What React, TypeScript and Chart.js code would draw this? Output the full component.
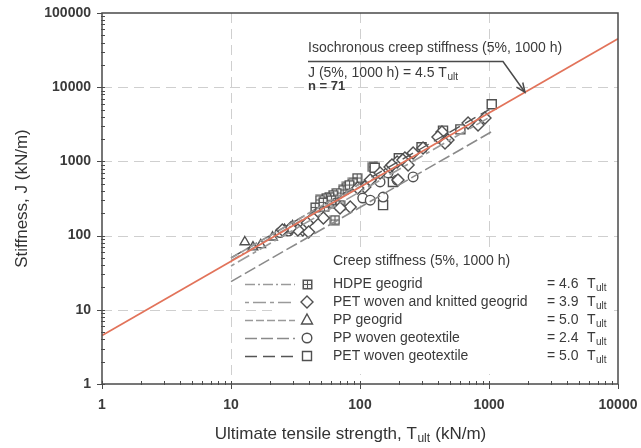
import React, { useEffect, useRef } from "react";
import { Chart, registerables } from "chart.js";

Chart.register(...registerables);

const FONT = "'Liberation Sans', Arial, Helvetica, sans-serif";

const X_MIN = 1;
const X_MAX = 10000;
const Y_MIN = 1;
const Y_MAX = 100000;
const X_TICKS = [1, 10, 100, 1000, 10000];
const Y_TICKS = [1, 10, 100, 1000, 10000, 100000];

// HDPE geogrid
const HDPE_T = [126, 95, 88, 79, 74, 66, 62, 58, 55, 49, 62, 64, 70, 53, 45, 52, 83, 60];
const HDPE_J = [841, 597, 512, 452, 412, 375, 352, 331, 321, 302, 275, 162, 258, 243, 240, 280, 480, 300];
// PET woven and knitted geogrid
const PETK_T = [308, 258, 223, 194, 171, 143, 120, 109, 96, 84, 70, 52, 43, 39, 36, 33, 40, 29, 25, 432, 481, 456, 402, 215, 177, 236, 197, 822, 931, 688];
const PETK_J = [1517, 1298, 1111, 982, 841, 698, 561, 452, 438, 243, 235, 173, 173, 148, 119, 119, 112, 127, 119, 2490, 1942, 1771, 2133, 1045, 895, 895, 561, 3093, 3846, 3296];
// PP geogrid
const PPG_T = [12.8, 14.8, 17, 21, 26, 30];
const PPG_J = [82, 70, 75, 95, 120, 135];
// PP woven geotextile
const PPW_T = [105, 151, 194, 258, 143, 165, 28, 24, 120];
const PPW_J = [321, 331, 561, 617, 528, 700, 115, 110, 300];
// PET woven geotextile
const PETW_T = [1050, 300, 200, 440, 151, 180, 130, 600];
const PETW_J = [5900, 1550, 1100, 2600, 258, 528, 820, 2700];

// Regression lines (end points)
const FIT_HDPE_T = [10, 150];
const FIT_HDPE_J = [46, 690];
const FIT_PETK_T = [10, 1000];
const FIT_PETK_J = [39, 3900];
const FIT_PPG_T = [10, 100];
const FIT_PPG_J = [50, 500];
const FIT_PPW_T = [10, 1100];
const FIT_PPW_J = [24, 2640];
const FIT_PETW_T = [10, 1000];
const FIT_PETW_J = [50, 5000];
// Isochronous creep stiffness line
const ISO_T = [1, 10000];
const ISO_J = [4.5, 45000];
const ARROW_T = 1900;
const ARROW_J = 8550;

const LEGEND_TITLE = "Creep stiffness (5%, 1000 h)";
const LEGEND_LABELS = [
  "HDPE geogrid",
  "PET woven and knitted geogrid",
  "PP geogrid",
  "PP woven geotextile",
  "PET woven geotextile",
];
const LEGEND_COEF = ["= 4.6", "= 3.9", "= 5.0", "= 2.4", "= 5.0"];

const MARK = "#505050";
const LINE_STYLES = [
  { color: "#9a9a9a", dash: [10, 3, 2, 3], width: 1.6 },
  { color: "#9a9a9a", dash: [4, 4, 13, 4], width: 1.6 },
  { color: "#9a9a9a", dash: [8, 3], width: 1.6 },
  { color: "#8a8a8a", dash: [12, 4], width: 1.6 },
  { color: "#555555", dash: [12, 6], width: 1.4 },
];
const MARKERS = ["gridsq", "diamond", "triangle", "circle", "square"];

function pts(xs: number[], ys: number[]) {
  return xs.map((v, i) => ({ x: v, y: ys[i] }));
}

function makeGridSquare(): HTMLCanvasElement {
  const c = document.createElement("canvas");
  c.width = 11;
  c.height = 11;
  const g = c.getContext("2d")!;
  g.fillStyle = "#555555";
  g.fillRect(0.5, 0.5, 10, 10);
  g.fillStyle = "#f4f4f4";
  g.fillRect(2, 2, 3, 3);
  g.fillRect(6, 2, 3, 3);
  g.fillRect(2, 6, 3, 3);
  g.fillRect(6, 6, 3, 3);
  return c;
}

function drawMarker(ctx: CanvasRenderingContext2D, kind: string, x: number, y: number, img: HTMLCanvasElement) {
  ctx.save();
  ctx.setLineDash([]);
  ctx.strokeStyle = MARK;
  ctx.fillStyle = "#fff";
  ctx.lineWidth = 1.4;
  ctx.beginPath();
  if (kind === "gridsq") {
    ctx.drawImage(img, Math.round(x - 5.5), Math.round(y - 5.5));
    ctx.restore();
    return;
  } else if (kind === "diamond") {
    ctx.moveTo(x, y - 6);
    ctx.lineTo(x + 6, y);
    ctx.lineTo(x, y + 6);
    ctx.lineTo(x - 6, y);
    ctx.closePath();
  } else if (kind === "triangle") {
    ctx.moveTo(x, y - 6);
    ctx.lineTo(x + 5.5, y + 4);
    ctx.lineTo(x - 5.5, y + 4);
    ctx.closePath();
  } else if (kind === "circle") {
    ctx.arc(x, y, 4.8, 0, Math.PI * 2);
  } else {
    ctx.rect(x - 4.5, y - 4.5, 9, 9);
  }
  ctx.fill();
  ctx.stroke();
  ctx.restore();
}

function textWithSub(ctx: CanvasRenderingContext2D, main: string, sub: string, rest: string, x: number, y: number, size: number, align: "left" | "center") {
  ctx.font = `${size}px ${FONT}`;
  const w1 = ctx.measureText(main).width;
  ctx.font = `${Math.round(size * 0.72)}px ${FONT}`;
  const w2 = ctx.measureText(sub).width;
  ctx.font = `${size}px ${FONT}`;
  const w3 = ctx.measureText(rest).width;
  const sx = align === "center" ? x - (w1 + w2 + w3) / 2 : x;
  ctx.textAlign = "left";
  ctx.textBaseline = "middle";
  ctx.fillText(main, sx, y);
  ctx.font = `${Math.round(size * 0.72)}px ${FONT}`;
  ctx.fillText(sub, sx + w1 + 0.5, y + size * 0.3);
  ctx.font = `${size}px ${FONT}`;
  ctx.fillText(rest, sx + w1 + w2 + 1, y);
}

export default function App() {
  const ref = useRef<HTMLCanvasElement | null>(null);

  useEffect(() => {
    document.body.style.margin = "0";
    const canvas = ref.current!;
    const gridImg = makeGridSquare();

    const decorPlugin = {
      id: "decor",
      beforeDraw(chart: any) {
        const { ctx, width, height } = chart;
        ctx.save();
        ctx.fillStyle = "#ffffff";
        ctx.fillRect(0, 0, width, height);
        ctx.restore();
      },
      beforeDatasetsDraw(chart: any) {
        const { ctx, chartArea: a, scales } = chart;
        const xs = scales.x;
        const ys = scales.y;
        ctx.save();
        ctx.strokeStyle = "#cfcfcf";
        ctx.lineWidth = 1;
        ctx.setLineDash([10, 6]);
        for (const v of X_TICKS) {
          if (v <= X_MIN || v >= X_MAX) continue;
          const px = Math.round(xs.getPixelForValue(v)) + 0.5;
          ctx.beginPath();
          ctx.moveTo(px, a.top);
          ctx.lineTo(px, a.bottom);
          ctx.stroke();
        }
        for (const v of Y_TICKS) {
          if (v <= Y_MIN || v >= Y_MAX) continue;
          const py = Math.round(ys.getPixelForValue(v)) + 0.5;
          ctx.beginPath();
          ctx.moveTo(a.left, py);
          ctx.lineTo(a.right, py);
          ctx.stroke();
        }
        // legend background
        ctx.setLineDash([]);
        ctx.fillStyle = "#ffffff";
        ctx.fillRect(a.left + 170, a.top + 236, a.right - a.left - 176, a.bottom - a.top - 246);
        ctx.restore();
      },
      afterDatasetsDraw(chart: any) {
        const { ctx, chartArea: a, scales } = chart;
        const xs = scales.x;
        const ys = scales.y;
        ctx.save();
        ctx.setLineDash([]);
        // frame
        ctx.strokeStyle = "#4a4a4a";
        ctx.lineWidth = 1.5;
        ctx.strokeRect(a.left, a.top, a.right - a.left, a.bottom - a.top);
        // ticks
        ctx.lineWidth = 1;
        ctx.strokeStyle = "#4a4a4a";
        for (let d = 0; d < 4; d++) {
          for (let m = 1; m <= 9; m++) {
            const v = Math.pow(10, d) * m;
            const px = Math.round(xs.getPixelForValue(v)) + 0.5;
            ctx.beginPath();
            if (m === 1) {
              ctx.moveTo(px, a.bottom + 5);
              ctx.lineTo(px, a.bottom - 3);
            } else {
              ctx.moveTo(px, a.bottom + 1);
              ctx.lineTo(px, a.bottom - 3);
            }
            ctx.stroke();
          }
        }
        {
          const px = Math.round(xs.getPixelForValue(X_MAX)) + 0.5;
          ctx.beginPath();
          ctx.moveTo(px, a.bottom + 5);
          ctx.lineTo(px, a.bottom);
          ctx.stroke();
        }
        for (let d = 0; d < 5; d++) {
          for (let m = 1; m <= 9; m++) {
            const v = Math.pow(10, d) * m;
            const py = Math.round(ys.getPixelForValue(v)) + 0.5;
            ctx.beginPath();
            if (m === 1) {
              ctx.moveTo(a.left - 5, py);
              ctx.lineTo(a.left + 3, py);
            } else {
              ctx.moveTo(a.left - 1, py);
              ctx.lineTo(a.left + 3, py);
            }
            ctx.stroke();
          }
        }
        {
          const py = Math.round(ys.getPixelForValue(Y_MAX)) + 0.5;
          ctx.beginPath();
          ctx.moveTo(a.left - 5, py);
          ctx.lineTo(a.left, py);
          ctx.stroke();
        }

        // legend
        const lx = a.left + 231;
        const sx0 = a.left + 143;
        const sx1 = a.left + 193;
        const mx = a.left + 205;
        ctx.fillStyle = "#3a3a3a";
        ctx.font = `14px ${FONT}`;
        ctx.textAlign = "left";
        ctx.textBaseline = "middle";
        ctx.fillText(LEGEND_TITLE, lx, a.top + 248);
        const rowY = [271, 289, 307, 325, 343];
        LEGEND_LABELS.forEach((lab, i) => {
          const yy = a.top + rowY[i];
          const st = LINE_STYLES[i];
          ctx.save();
          ctx.strokeStyle = st.color;
          ctx.lineWidth = st.width;
          ctx.setLineDash(st.dash);
          ctx.beginPath();
          ctx.moveTo(sx0, yy + 0.5);
          ctx.lineTo(sx1, yy + 0.5);
          ctx.stroke();
          ctx.restore();
          drawMarker(ctx, MARKERS[i], mx, yy, gridImg);
          ctx.fillStyle = "#3a3a3a";
          ctx.font = `14px ${FONT}`;
          ctx.textAlign = "left";
          ctx.textBaseline = "middle";
          ctx.fillText(lab, lx, yy);
          ctx.fillText(LEGEND_COEF[i], a.left + 445, yy);
          textWithSub(ctx, "T", "ult", "", a.left + 485, yy, 14, "left");
        });

        // annotation
        const tx = a.left + 206;
        ctx.fillStyle = "#3a3a3a";
        ctx.font = `14px ${FONT}`;
        ctx.textAlign = "left";
        ctx.textBaseline = "middle";
        ctx.fillText("Isochronous creep stiffness (5%, 1000 h)", tx, a.top + 35);
        textWithSub(ctx, "J (5%, 1000 h) = 4.5 T", "ult", "", tx, a.top + 60, 14, "left");
        ctx.font = `bold 13px ${FONT}`;
        ctx.fillText("n = 71", tx, a.top + 73);
        const tipX = xs.getPixelForValue(ARROW_T);
        const tipY = ys.getPixelForValue(ARROW_J);
        const kx = a.left + 401;
        const ky = a.top + 48.5;
        ctx.strokeStyle = "#4a4a4a";
        ctx.lineWidth = 1.5;
        ctx.beginPath();
        ctx.moveTo(tx, ky);
        ctx.lineTo(kx, ky);
        ctx.lineTo(tipX, tipY);
        ctx.stroke();
        const ang = Math.atan2(tipY - ky, tipX - kx);
        const hl = 10;
        ctx.beginPath();
        ctx.moveTo(tipX - hl * Math.cos(ang - 0.4), tipY - hl * Math.sin(ang - 0.4));
        ctx.lineTo(tipX, tipY);
        ctx.lineTo(tipX - hl * Math.cos(ang + 0.4), tipY - hl * Math.sin(ang + 0.4));
        ctx.stroke();

        // axis titles
        ctx.fillStyle = "#333333";
        textWithSub(ctx, "Ultimate tensile strength, T", "ult", " (kN/m)", (a.left + a.right) / 2 - 10, a.bottom + 50, 17, "center");
        ctx.save();
        ctx.translate(22, (a.top + a.bottom) / 2);
        ctx.rotate(-Math.PI / 2);
        ctx.font = `17px ${FONT}`;
        ctx.textAlign = "center";
        ctx.textBaseline = "middle";
        ctx.fillText("Stiffness, J (kN/m)", 0, 0);
        ctx.restore();
        ctx.restore();
      },
    };

    const scatterDs = (xs: number[], ys: number[], style: any) => ({
      type: "scatter" as const,
      data: pts(xs, ys),
      showLine: false,
      borderColor: MARK,
      backgroundColor: "#ffffff",
      pointBorderWidth: 1.4,
      order: 3,
      ...style,
    });
    const lineDs = (xs: number[], ys: number[], i: number) => ({
      type: "scatter" as const,
      data: pts(xs, ys),
      showLine: true,
      borderColor: LINE_STYLES[i].color,
      borderWidth: LINE_STYLES[i].width,
      borderDash: LINE_STYLES[i].dash,
      pointRadius: 0,
      fill: false,
      order: 2,
    });

    const tickFont = { family: FONT, size: 14, weight: "bold" as const };

    const chart = new Chart(canvas, {
      type: "scatter",
      data: {
        datasets: [
          scatterDs(PETK_T, PETK_J, { pointStyle: "rectRot", pointRadius: 6 }),
          scatterDs(PPG_T, PPG_J, { pointStyle: "triangle", pointRadius: 5.5 }),
          scatterDs(PPW_T, PPW_J, { pointStyle: "circle", pointRadius: 4.8 }),
          scatterDs(PETW_T, PETW_J, { pointStyle: "rect", pointRadius: 6.4 }),
          scatterDs(HDPE_T, HDPE_J, { pointStyle: gridImg, pointRadius: 5.5 }),
          lineDs(FIT_HDPE_T, FIT_HDPE_J, 0),
          lineDs(FIT_PETK_T, FIT_PETK_J, 1),
          lineDs(FIT_PPG_T, FIT_PPG_J, 2),
          lineDs(FIT_PPW_T, FIT_PPW_J, 3),
          lineDs(FIT_PETW_T, FIT_PETW_J, 4),
          {
            type: "scatter" as const,
            data: pts(ISO_T, ISO_J),
            showLine: true,
            borderColor: "#e2735a",
            borderWidth: 1.7,
            pointRadius: 0,
            fill: false,
            order: 1,
          },
        ] as any,
      },
      options: {
        responsive: false,
        animation: false,
        devicePixelRatio: 1,
        layout: { padding: { left: 8, right: 23, top: 13, bottom: 0 } },
        plugins: { legend: { display: false }, tooltip: { enabled: false }, title: { display: false } },
        scales: {
          x: {
            type: "logarithmic",
            min: X_MIN,
            max: X_MAX,
            grid: { display: false, drawTicks: false },
            border: { display: false },
            afterBuildTicks: (s: any) => {
              s.ticks = X_TICKS.map((v) => ({ value: v, major: true }));
            },
            afterFit: (s: any) => {
              s.height = 64;
              s.paddingLeft = 0;
              s.paddingRight = 0;
            },
            ticks: {
              autoSkip: false,
              maxRotation: 0,
              padding: 13,
              color: "#3a3a3a",
              font: tickFont,
              callback: (v: any) => String(v),
            },
          },
          y: {
            type: "logarithmic",
            min: Y_MIN,
            max: Y_MAX,
            grid: { display: false, drawTicks: false },
            border: { display: false },
            afterBuildTicks: (s: any) => {
              s.ticks = Y_TICKS.map((v) => ({ value: v, major: true }));
            },
            afterFit: (s: any) => {
              s.width = 94;
              s.paddingTop = 0;
              s.paddingBottom = 0;
            },
            ticks: {
              autoSkip: false,
              padding: 11,
              color: "#3a3a3a",
              font: tickFont,
              callback: (v: any) => String(v),
            },
          },
        },
      } as any,
      plugins: [decorPlugin],
    });

    return () => {
      chart.destroy();
    };
  }, []);

  return (
    <div style={{ width: 641, height: 448 }}>
      <canvas ref={ref} width={641} height={448} style={{ display: "block", width: 641, height: 448 }} />
    </div>
  );
}
